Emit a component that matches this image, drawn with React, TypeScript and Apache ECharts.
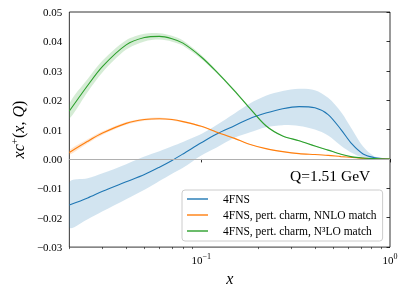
import React, { useEffect, useRef } from 'react';
import * as echarts from 'echarts';

const xs = [0.02, 0.025, 0.03, 0.04, 0.05, 0.06, 0.07, 0.08, 0.1, 0.12, 0.15, 0.18, 0.22, 0.27, 0.33, 0.4, 0.47, 0.55, 0.63, 0.72, 0.82, 0.92, 1.0];

const blueCentral = [-0.0157, -0.0133, -0.011, -0.0078, -0.0053, -0.0028, -0.0005, 0.0017, 0.0055, 0.0084, 0.0113, 0.0137, 0.0156, 0.0171, 0.0178, 0.0174, 0.0151, 0.01, 0.005, 0.0017, 0.0005, 0.0001, 0];
const blueUpper = [-0.008, -0.0066, -0.0049, -0.0018, 0.0008, 0.0026, 0.0043, 0.0058, 0.0085, 0.0115, 0.0155, 0.0188, 0.0215, 0.0231, 0.0239, 0.0234, 0.0208, 0.016, 0.01, 0.0042, 0.001, 0.0002, 0];
const blueLower = [-0.0233, -0.0205, -0.0178, -0.0137, -0.0105, -0.0075, -0.005, -0.003, 0.0012, 0.0038, 0.0072, 0.009, 0.0108, 0.0115, 0.0112, 0.01, 0.008, 0.0045, 0.002, 0.0004, 0.0001, 0, 0];

const orangeCentral = [0.0022, 0.006, 0.0088, 0.0121, 0.0134, 0.0137, 0.0134, 0.0127, 0.0111, 0.0092, 0.007, 0.005, 0.0035, 0.0025, 0.0018, 0.0015, 0.0012, 0.0008, 0.0005, 0.0002, 0.0001, 0, 0];
const orangeErr = [0.0008, 0.0007, 0.0006, 0.0005, 0.0004, 0.0004, 0.0003, 0.0003, 0.0002, 0.0002, 0.0002, 0.0001, 0.0001, 0.0001, 0.0001, 0.0001, 0.0001, 0, 0, 0, 0, 0, 0];

const greenCentral = [0.0163, 0.025, 0.0315, 0.0388, 0.0413, 0.0417, 0.0409, 0.0394, 0.0347, 0.0298, 0.0232, 0.0174, 0.0113, 0.0078, 0.0062, 0.0044, 0.003, 0.0016, 0.0007, 0.0003, 0.0001, 0, 0];
const greenErr = [0.0025, 0.0022, 0.002, 0.0016, 0.0013, 0.0011, 0.001, 0.0009, 0.0007, 0.0005, 0.0004, 0.0003, 0.0003, 0.0002, 0.0002, 0.0002, 0.0001, 0.0001, 0.0001, 0, 0, 0, 0];

const majorTicks = [0.1, 1];
const minorTicks = [0.02, 0.03, 0.04, 0.05, 0.06, 0.07, 0.08, 0.09, 0.2, 0.3, 0.4, 0.5, 0.6, 0.7, 0.8, 0.9];
const yTicks = { min: -0.03, max: 0.05, interval: 0.01 };

const names = ['4FNS', '4FNS, pert. charm, NNLO match', '4FNS, pert. charm, N\u00b3LO match'];
const colors = ['#1f77b4', '#ff7f0e', '#2ca02c'];

const FONT = '"Liberation Serif", "Times New Roman", serif';
const SMOOTH = 0.3;

export default function App() {
  const ref = useRef<HTMLDivElement>(null);
  useEffect(() => {
    if (!ref.current) return;
    const chart = echarts.init(ref.current, null, { renderer: 'svg' });
    const lx = xs.map((v) => Math.log10(v));
    const pts = (arr: number[]) => lx.map((x, i) => [x, arr[i]]);

    const bandSeries = (lower: number[], upper: number[], color: string) => ({
      type: 'custom',
      silent: true,
      z: 1,
      clip: true,
      data: lx.map((x, i) => [x, lower[i], upper[i]]),
      encode: { x: 0, y: [1, 2] },
      renderItem: (params: any, api: any) => {
        if (params.dataIndex !== 0) return null;
        const top = lx.map((x, i) => api.coord([x, upper[i]]));
        const bot = lx.map((x, i) => api.coord([x, lower[i]])).reverse();
        return {
          type: 'polygon',
          shape: { points: top.concat(bot), smooth: SMOOTH },
          style: { fill: color, opacity: 0.2, stroke: 'none' },
        };
      },
    });
    const lineSeries = (name: string, data: number[], color: string, extra: any = {}) => ({
      type: 'line', name, data: pts(data), showSymbol: false, symbol: 'none', smooth: SMOOTH,
      lineStyle: { color, width: 1.1 }, itemStyle: { color }, z: 3, ...extra,
    });

    const option: any = {
      animation: false,
      grid: { left: 62, right: 17, top: 12, bottom: 43, show: true, borderColor: '#000', borderWidth: 0.8, backgroundColor: 'transparent' },
      xAxis: [
        {
          type: 'value', min: Math.log10(0.02), max: 0,
          axisLine: { show: false },
          splitLine: { show: false },
          axisTick: { show: true, length: 3.5, customValues: majorTicks.map((v) => Math.log10(v)), lineStyle: { color: '#000', width: 0.8 } },
          axisLabel: {
            customValues: majorTicks.map((v) => Math.log10(v)),
            margin: 5,
            formatter: (v: number) => '{b|10}{s|' + (Math.round(v) < 0 ? '\u2212' + Math.abs(Math.round(v)) : String(Math.round(v))) + '}',
            rich: {
              b: { fontFamily: FONT, fontSize: 11, color: '#000', lineHeight: 15 },
              s: { fontFamily: FONT, fontSize: 8, color: '#000', verticalAlign: 'top', lineHeight: 9 },
            },
          },
          name: 'x', nameLocation: 'middle', nameGap: 19,
          nameTextStyle: { fontFamily: FONT, fontSize: 16, fontStyle: 'italic', color: '#000' },
        },
        {
          type: 'value', min: Math.log10(0.02), max: 0, position: 'bottom',
          axisLine: { show: false }, splitLine: { show: false }, axisLabel: { show: false },
          axisTick: { show: true, length: 2, customValues: minorTicks.map((v) => Math.log10(v)), lineStyle: { color: '#000', width: 0.6 } },
        },
      ],
      yAxis: {
        type: 'value', min: yTicks.min, max: yTicks.max, interval: yTicks.interval,
        axisLine: { show: false }, splitLine: { show: false },
        axisTick: { show: true, length: 3.5, lineStyle: { color: '#000', width: 0.8 } },
        axisLabel: {
          margin: 7, fontFamily: FONT, fontSize: 11, color: '#000',
          formatter: (v: number) => (v < -1e-9 ? '\u2212' + Math.abs(v).toFixed(2) : Math.abs(v).toFixed(2)),
        },
        name: '{i|xc}{s|+}{r|(}{i|x}{r|, }{i|Q}{r|)}', nameLocation: 'middle', nameRotate: 90, nameGap: 34,
        nameTextStyle: {
          rich: {
            i: { fontFamily: FONT, fontSize: 16, fontStyle: 'italic', color: '#000', lineHeight: 20 },
            r: { fontFamily: FONT, fontSize: 16, color: '#000', lineHeight: 20 },
            s: { fontFamily: FONT, fontSize: 11, color: '#000', verticalAlign: 'top', lineHeight: 11 },
          },
        },
      },
      legend: {
        data: names.map((n) => ({ name: n, icon: 'rect' })), orient: 'vertical', left: 182, top: 190,
        itemWidth: 21, itemHeight: 1.4, itemGap: 4,
        padding: [3, 6, 4, 5],
        borderColor: '#cccccc', borderWidth: 1, borderRadius: 3, backgroundColor: 'rgba(255,255,255,0.85)',
        textStyle: { fontFamily: FONT, fontSize: 11.5, color: '#000', lineHeight: 12, padding: [0, 0, 0, 10] },
        z: 10,
      },
      graphic: [
        { type: 'text', left: 290, top: 167, z: 5, style: { text: 'Q=1.51 GeV', font: '15.5px "Liberation Serif", serif', fill: '#000' } },
      ],
      series: [
        bandSeries(blueLower, blueUpper, colors[0]),
        lineSeries(names[0], blueCentral, colors[0], {
          markLine: {
            silent: true, symbol: ['none', 'none'], label: { show: false },
            lineStyle: { color: '#b0b0b0', width: 1, type: 'solid' },
            data: [{ yAxis: 0 }],
          },
        }),
        bandSeries(orangeCentral.map((c, i) => c - orangeErr[i]), orangeCentral.map((c, i) => c + orangeErr[i]), colors[1]),
        lineSeries(names[1], orangeCentral, colors[1]),
        bandSeries(greenCentral.map((c, i) => c - greenErr[i]), greenCentral.map((c, i) => c + greenErr[i]), colors[2]),
        lineSeries(names[2], greenCentral, colors[2]),
      ],
    };
    chart.setOption(option);
    return () => chart.dispose();
  }, []);
  return <div ref={ref} style={{ position: 'fixed', left: 0, top: 0, width: 407, height: 291 }} />;
}
